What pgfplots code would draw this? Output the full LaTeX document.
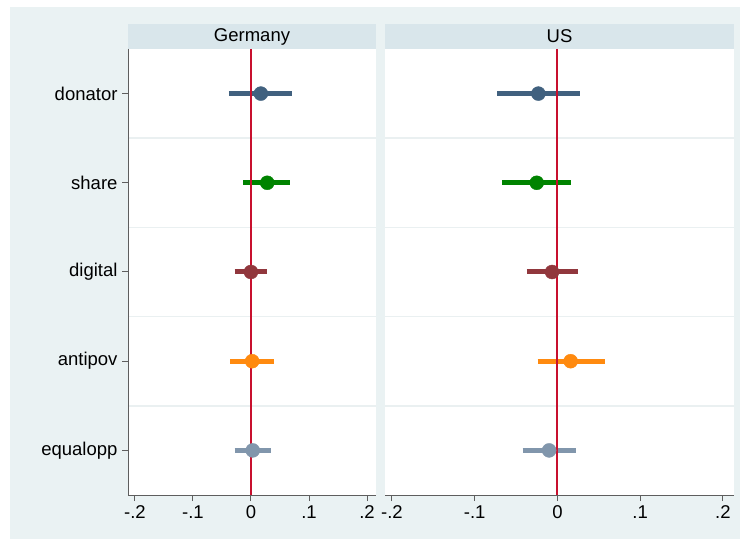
\documentclass[border=0pt]{standalone}
\usepackage{fontspec}
\setmainfont{Liberation Sans}
\usepackage{pgfplots}
\pgfplotsset{compat=1.18}
\definecolor{bgc}{HTML}{EAF2F3}
\definecolor{hdr}{HTML}{D9E6EB}
\definecolor{gridc}{HTML}{EAF0F1}
\definecolor{axisgray}{HTML}{5E5E5E}
\definecolor{zeroc}{HTML}{C8102E}
\definecolor{cdon}{HTML}{41617F}
\definecolor{csha}{HTML}{008300}
\definecolor{cdig}{HTML}{91373D}
\definecolor{cant}{HTML}{FF8A0F}
\definecolor{cequ}{HTML}{8196AC}
\pgfplotsset{
  panel/.style={
    anchor=south west, scale only axis, height=446bp,
    ymin=0.5, ymax=5.5, y dir=reverse,
    axis background/.style={fill=white},
    axis on top,
    xtick={-0.2,-0.1,0,0.1,0.2},
    xticklabels={-.2,-.1,0,.1,.2},
    axis x line*=bottom,
    axis line style={draw=axisgray, line width=1bp, -},
    tick style={draw=axisgray, line width=1bp},
    tick align=outside, major tick length=6bp,
    tick label style={font=\fontsize{18.5bp}{20bp}\selectfont},
    xticklabel style={yshift=-1bp},
    clip=false,
  },
  ci/.style={line width=5bp, no markers},
  pt/.style={only marks, mark=*, mark size=7bp},
}
\begin{document}
\begin{tikzpicture}[x=1bp,y=1bp]
\fill[white] (0,0) rectangle (740,539);
\fill[bgc] (10,0) rectangle (740,532);
\fill[hdr] (128,490) rectangle (376,515);
\node[font=\fontsize{18.5bp}{20bp}\selectfont] at (252,502.5) {Germany};
\fill[hdr] (385,490) rectangle (734,515);
\node[font=\fontsize{18.5bp}{20bp}\selectfont] at (559.5,502.5) {US};

\begin{axis}[panel, at={(128bp,44bp)}, width=248bp,
  xmin=-0.212, xmax=0.2155,
  axis y line*=left,
  ytick={1,2,3,4,5},
  yticklabels={donator,share,digital,antipov,equalopp},
  yticklabel style={xshift=-1bp}]
  \foreach \g in {1.5,2.5,3.5,4.5}{
    \edef\tmp{\noexpand\draw[gridc, line width=1.5bp] (axis cs:-0.212,\g) -- (axis cs:0.2155,\g);}\tmp
  }
  \addplot[ci, cdon] coordinates {(-0.038,1) (0.071,1)};
  \addplot[pt, cdon] coordinates {(0.017,1)};
  \addplot[ci, csha] coordinates {(-0.013,2) (0.068,2)};
  \addplot[pt, csha] coordinates {(0.028,2)};
  \addplot[ci, cdig] coordinates {(-0.028,3) (0.027,3)};
  \addplot[pt, cdig] coordinates {(0.000,3)};
  \addplot[ci, cant] coordinates {(-0.036,4) (0.040,4)};
  \addplot[pt, cant] coordinates {(0.002,4)};
  \addplot[ci, cequ] coordinates {(-0.028,5) (0.034,5)};
  \addplot[pt, cequ] coordinates {(0.003,5)};
  \draw[zeroc, line width=2bp] (axis cs:0,0.5) -- (axis cs:0,5.5);
\end{axis}

\begin{axis}[panel, at={(385bp,44bp)}, width=349bp,
  xmin=-0.2084, xmax=0.2135,
  axis y line=none, ytick=\empty]
  \foreach \g in {1.5,2.5,3.5,4.5}{
    \edef\tmp{\noexpand\draw[gridc, line width=1.5bp] (axis cs:-0.2084,\g) -- (axis cs:0.2135,\g);}\tmp
  }
  \addplot[ci, cdon] coordinates {(-0.073,1) (0.027,1)};
  \addplot[pt, cdon] coordinates {(-0.023,1)};
  \addplot[ci, csha] coordinates {(-0.067,2) (0.017,2)};
  \addplot[pt, csha] coordinates {(-0.025,2)};
  \addplot[ci, cdig] coordinates {(-0.037,3) (0.025,3)};
  \addplot[pt, cdig] coordinates {(-0.0065,3)};
  \addplot[ci, cant] coordinates {(-0.024,4) (0.057,4)};
  \addplot[pt, cant] coordinates {(0.016,4)};
  \addplot[ci, cequ] coordinates {(-0.042,5) (0.023,5)};
  \addplot[pt, cequ] coordinates {(-0.010,5)};
  \draw[zeroc, line width=2bp] (axis cs:0,0.5) -- (axis cs:0,5.5);
\end{axis}
\end{tikzpicture}
\end{document}
